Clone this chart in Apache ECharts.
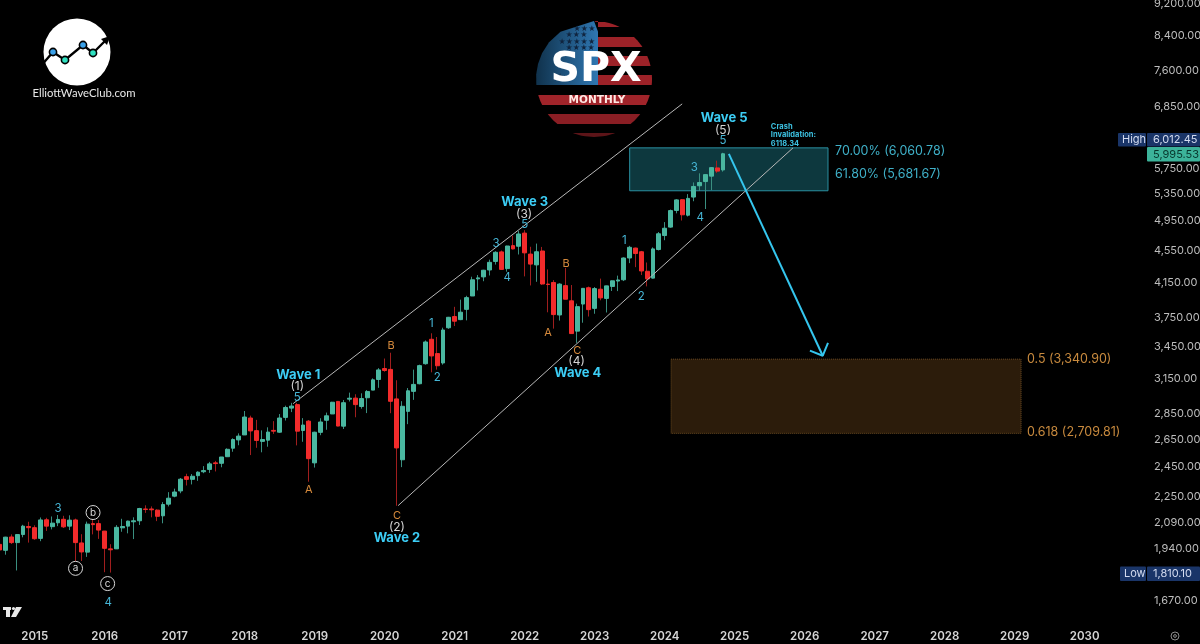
<!DOCTYPE html>
<html>
<head>
<meta charset="utf-8">
<style>
  html, body { margin: 0; padding: 0; background: #000; }
  #chart { width: 1200px; height: 644px; }
</style>
<script src="https://cdn.jsdelivr.net/npm/echarts@6/dist/echarts.min.js"></script>
</head>
<body>
<div id="chart"></div>
<script>
// monthly candles, July 2014 to November 2024
const opens = [1962,1929,2004,1972,2018,2065,2058,1996,2105,2064,2087,2108,2067,2104,1970,1919,2082,2082,2038,1937,1937,2057,2067,2093,2099,2171,2171,2164,2129,2201,
  2252,2286,2381,2363,2388,2415,2431,2477,2474,2521,2583,2645,2683,2816,2716,2634,2643,2718,2704,2821,2897,2926,2717,2791,2477,2703,2798,2849,2953,2751,
  2972,2981,2910,2984,3050,3144,3244,3236,2974,2499,2870,3039,3106,3289,3527,3386,3296,3645,3764,3731,3842,3992,4192,4216,4300,4406,4528,4317,4610,4602,
  4778,4500,4363,4540,4130,4149,3781,4112,3937,3610,3901,4087,3853,4070,3964,4102,4166,4181,4450,4578,4530,4284,4201,4559,4745,4861,5098,5257,5029,5297,
  5471,5537,5623,5757,5724];
const highs = [1985,2005,2019,2018,2075,2093,2072,2119,2117,2125,2134,2129,2132,2112,2020,2094,2116,2104,2038,1963,2073,2111,2100,2120,2178,2194,2187,2169,2214,2278,
  2301,2372,2401,2399,2418,2454,2484,2491,2519,2582,2657,2695,2873,2835,2801,2718,2742,2791,2848,2917,2941,2940,2815,2800,2708,2814,2860,2949,2954,2965,
  3028,3014,3022,3050,3154,3248,3338,3394,3137,2955,3068,3234,3280,3515,3588,3550,3646,3760,3870,3950,3994,4218,4238,4302,4429,4537,4546,4608,4743,4808,
  4818,4595,4637,4593,4307,4177,4140,4325,4119,3905,4080,4101,4095,4195,4110,4170,4231,4458,4607,4584,4541,4393,4587,4793,4931,5111,5264,5263,5342,5523,
  5669,5651,5767,5878,6012];
const lows = [1930,1905,1964,1821,2002,1972,1988,1980,2039,2048,2067,2056,2044,1867,1871,1893,2019,1993,1812,1810,1937,2034,2025,1992,2074,2147,2120,2097,2084,2187,
  2245,2271,2322,2329,2353,2405,2407,2417,2446,2520,2557,2605,2683,2533,2586,2553,2594,2691,2699,2796,2864,2604,2631,2347,2444,2681,2723,2849,2751,2729,
  2952,2822,2892,2856,3050,3070,3214,2855,2191,2447,2767,2966,3101,3280,3209,3234,3280,3634,3663,3725,3723,3992,4056,4164,4233,4367,4306,4279,4560,4495,
  4222,4114,4157,4121,3810,3636,3721,3955,3585,3491,3698,3764,3794,3943,3808,4049,4048,4166,4385,4335,4238,4103,4197,4547,4682,4853,5056,4953,5011,5234,
  5390,5119,5402,5674,5696];
const closes = [1931,2003,1972,2018,2067,2058,1994,2104,2067,2085,2107,2063,2103,1972,1920,2079,2076,2044,1940,1932,2060,2065,2097,2099,2174,2168,2166,2126,2199,2239,
  2279,2364,2363,2384,2412,2423,2470,2472,2519,2575,2648,2674,2824,2714,2641,2648,2705,2712,2816,2902,2914,2712,2760,2507,2704,2784,2834,2946,2752,2942,
  2980,2926,2977,3038,3141,3231,3226,2954,2585,2912,3044,3100,3271,3500,3363,3270,3622,3756,3714,3811,3973,4181,4204,4297,4395,4523,4307,4605,4567,4766,
  4516,4373,4530,4131,4125,3785,4130,3955,3585,3872,4080,3839,4077,3970,4109,4169,4179,4450,4588,4507,4288,4193,4567,4769,4845,5096,5254,5035,5277,5460,
  5522,5648,5762,5705,5995];

const yTicks = [9200,8400,7600,6850,6250,5750,5350,4950,4550,4150,3750,3450,3150,2850,2650,2450,2250,2090,1940,1670];

// annotations: [months since Jul 2014, price]
const channelUpper = [[50.3,2934],[117,6914]];
const channelLower = [[68.3,2192],[136,6097]];
const arrowShaft = [[125,5993],[141.1,3365]];
const arrowHead = [[138.9,3414],[141.1,3365],[142,3492]];
const tealZone = [[108,6097],[142,5393]];
const brownZone = [[115.1,3332],[175.1,2695]];

const waveNames = [[51.2,3188,"Wave 1"],[68.1,1995,"Wave 2"],[90,5226,"Wave 3"],[99.1,3206,"Wave 4"],[124.2,6642,"Wave 5"]];
const waveMarks = [[51,3080,"(1)"],[68.1,2058,"(2)"],[89.9,5035,"(3)"],[98.9,3308,"(4)"],[124,6418,"(5)"]];
const minorNums = [[10,2174,"3"],[18.6,1662,"4"],[51,2985,"5"],[74,3688,"1"],[75,3160,"2"],[85.1,4634,"3"],[87,4205,"4"],
  [90,4893,"5"],[107.1,4675,"1"],[110,3983,"2"],[120.1,4992,"4"],[119.1,5758,"3"],[124,6220,"5"]];
const abcLetters = [[53,2295,"A"],[68.1,2130,"C"],[67.1,3463,"B"],[94,3594,"A"],[97.1,4377,"B"],[99,3414,"C"]];
const circled = [[13,1832,"a"],[16,2149,"b"],[18.5,1754,"c"]];
const tealLevels = [[143.2,6045,"70.00% (6,060.78)"],[143.2,5661,"61.80% (5,681.67)"]];
const brownLevels = [[176.1,3327,"0.5 (3,340.90)"],[176.1,2700,"0.618 (2,709.81)"]];
const crashNote = [[132.2,6328,"Crash\nInvalidation:\n6118.34"]];

const FONT = "Inter, 'Liberation Sans', sans-serif";
const UP = "#4ab7a0", DOWN = "#f22b2b";

// month axis runs to the end of 2030
const months = [];
for (let i = 0; i < 197; i++) {
  const y = 2014 + Math.floor((6 + i) / 12);
  const m = (6 + i) % 12 + 1;
  months.push(y + "-" + String(m).padStart(2, "0"));
}

const wicks = opens.map((o, i) => [o, closes[i], lows[i], highs[i]]);
const bodies = opens.map((o, i) => [o, closes[i], Math.min(o, closes[i]), Math.max(o, closes[i])]);

function overlayLine(points, color, width) {
  return {
    type: "line", xAxisIndex: 1, yAxisIndex: 0, data: points, symbol: "none", z: 3, silent: true,
    lineStyle: { color: color, width: width },
  };
}

function textSeries(points, color, size, weight) {
  return {
    type: "scatter", xAxisIndex: 1, yAxisIndex: 0, data: points, symbolSize: 0, z: 5, silent: true,
    encode: { x: 0, y: 1 },
    itemStyle: { opacity: 1 },
    label: {
      show: true, position: "inside", color: color, fontSize: size, fontWeight: weight, fontFamily: FONT,
      formatter: (p) => p.value[2],
    },
  };
}

function sideText(points, color, size, weight, lineHeight) {
  const s = textSeries(points, color, size, weight);
  s.label.position = "right";
  s.label.distance = 0;
  s.label.align = "left";
  if (lineHeight) s.label.lineHeight = lineHeight;
  return s;
}

function zoneSeries(zone, fill, border, borderType) {
  return {
    type: "line", xAxisIndex: 1, yAxisIndex: 0, data: [], z: 1, silent: true,
    markArea: {
      silent: true,
      itemStyle: { color: fill, borderColor: border, borderWidth: 1, borderType: borderType, opacity: 1 },
      data: [[{ coord: zone[0] }, { coord: zone[1] }]],
    },
  };
}

// polygon for the part of the badge circle between two heights
function slice(y0, y1, xFrom, xTo) {
  const cx = 594, cy = 79, r = 58, left = [], right = [];
  for (let k = 0; k <= 6; k++) {
    const y = y0 + (y1 - y0) * k / 6;
    const half = Math.sqrt(Math.max(0, r * r - (y - cy) * (y - cy)));
    left.push([Math.max(xFrom, cx - half), y]);
    right.unshift([Math.min(xTo, cx + half), y]);
  }
  return left.concat(right);
}

const badge = [];
badge.push({
  type: "polygon", shape: { points: slice(21, 85, 0, 598) },
  style: { fill: new echarts.graphic.LinearGradient(0, 0, 1, 0, [{ offset: 0, color: "#10324c" }, { offset: 1, color: "#2f77b2" }]) },
});
[[21,27],[37,47],[56,66],[75,85]].forEach((b) => {
  badge.push({ type: "polygon", shape: { points: slice(b[0], b[1], 598, 700) }, style: { fill: "#9c2228" } });
});
[[95,105,"#a0242a"],[114,124,"#8a1e24"],[133,137,"#5c1418"]].forEach((b) => {
  badge.push({ type: "polygon", shape: { points: slice(b[0], b[1], 0, 700) }, style: { fill: b[2] } });
});
[[29,577,3],[35,569,3],[42,562,5],[48,569,4],[54,562,2],[77,560,1]].forEach((row) => {
  for (let k = 0; k < row[2]; k++) {
    badge.push({ type: "text", style: { text: "★", x: row[1] + k * 7.4, y: row[0], fill: "#10243e", font: "8px 'DejaVu Sans'", align: "center", verticalAlign: "middle" } });
  }
});
badge.push({ type: "text", style: { text: "SPX", x: 596, y: 70, fill: "#fff", font: "bold 41px 'DejaVu Sans'", align: "center", verticalAlign: "middle", shadowBlur: 10, shadowColor: "#46a8ff" } });
badge.push({ type: "text", style: { text: "MONTHLY", x: 597, y: 100, fill: "#ffe9e4", font: "bold 10.5px 'DejaVu Sans'", align: "center", verticalAlign: "middle", shadowBlur: 4, shadowColor: "#ff8080" } });

const logo = [
  { type: "circle", shape: { cx: 77, cy: 52, r: 33.5 }, style: { fill: "#fff" } },
  { type: "polyline", shape: { points: [[40,67],[53,52],[65,60],[83,45],[93,53],[107,39]] }, style: { stroke: "#000", fill: null, lineWidth: 2.4 } },
  { type: "polygon", shape: { points: [[110,36],[101,39],[107,45]] }, style: { fill: "#000" } },
  { type: "circle", shape: { cx: 53, cy: 52, r: 3.6 }, style: { fill: "#3aa0e8", stroke: "#000", lineWidth: 1.6 } },
  { type: "circle", shape: { cx: 65, cy: 60, r: 3.6 }, style: { fill: "#2fe0c0", stroke: "#000", lineWidth: 1.6 } },
  { type: "circle", shape: { cx: 83, cy: 45, r: 3.6 }, style: { fill: "#3aa0e8", stroke: "#000", lineWidth: 1.6 } },
  { type: "circle", shape: { cx: 93, cy: 53, r: 3.6 }, style: { fill: "#2fe0c0", stroke: "#000", lineWidth: 1.6 } },
  { type: "text", style: { text: "ElliottWaveClub.com", x: 84, y: 93, fill: "#e8e8e8", font: "11.3px Lato, sans-serif", align: "center", verticalAlign: "middle" } },
];

function tag(x, y, w, h, fill, text, color, tx) {
  return [
    { type: "rect", z: 100, shape: { x: x, y: y, width: w, height: h, r: 1 }, style: { fill: fill } },
    { type: "text", z: 101, style: { text: text, x: tx, y: y + h / 2, fill: color, font: "11px " + FONT, verticalAlign: "middle" } },
  ];
}

const tags = [].concat(
  tag(1118, 133, 28, 13.5, "#1a3568", "High", "#d4dcf0", 1122),
  tag(1147, 133, 53, 13.5, "#1a3568", "6,012.45", "#d4dcf0", 1153),
  tag(1147, 147, 53, 14.5, "#3cb39a", "5,995.53", "#07362c", 1153),
  tag(1120, 566.5, 26, 14.5, "#1a3568", "Low", "#d4dcf0", 1124),
  tag(1147, 566.5, 53, 14.5, "#1a3568", "1,810.10", "#d4dcf0", 1153)
);

const marks = [
  { type: "rect", shape: { x: 3, y: 607, width: 8, height: 3 }, style: { fill: "#e8e8e8" } },
  { type: "rect", shape: { x: 6, y: 607, width: 4, height: 10 }, style: { fill: "#e8e8e8" } },
  { type: "circle", shape: { cx: 13.5, cy: 608.5, r: 1.6 }, style: { fill: "#e8e8e8" } },
  { type: "polygon", shape: { points: [[16,607],[22,607],[16,617],[11,617]] }, style: { fill: "#e8e8e8" } },
  { type: "circle", shape: { cx: 1175, cy: 636, r: 4 }, style: { fill: null, stroke: "#8a8a8a", lineWidth: 1 } },
  { type: "circle", shape: { cx: 1175, cy: 636, r: 1.4 }, style: { fill: null, stroke: "#8a8a8a", lineWidth: 1 } },
];

const chart = echarts.init(document.getElementById("chart"));
chart.setOption({
  animation: false,
  backgroundColor: "#000",
  grid: { left: -3.2, top: 1, width: 1149.1, height: 622, outerBoundsMode: "none" },
  xAxis: [
    {
      type: "category", data: months, boundaryGap: true,
      axisLine: { show: false }, axisTick: { show: false }, splitLine: { show: false },
      axisLabel: {
        color: "#d6d6d6", fontSize: 11.5, fontWeight: 600, fontFamily: FONT, margin: 8,
        interval: (i, v) => v.endsWith("-01") && +v.slice(0, 4) >= 2015,
        formatter: (v) => v.slice(0, 4),
      },
    },
    { type: "value", min: -0.5, max: 196.5, show: false },
  ],
  yAxis: {
    type: "log", position: "right", min: 1567, max: 9279,
    axisLine: { show: false }, axisTick: { show: false }, splitLine: { show: false },
    axisLabel: {
      customValues: yTicks, color: "#bdbdbd", fontSize: 11, fontFamily: FONT, margin: 8, align: "left",
      formatter: (v) => Number(v).toLocaleString("en-US", { minimumFractionDigits: 2 }),
    },
  },
  series: [
    zoneSeries(tealZone, "#0d383e", "#2a8fa0", "solid"),
    zoneSeries(brownZone, "#2c1c0b", "#6f4c22", "dotted"),
    {
      type: "candlestick", data: wicks, barWidth: 1, z: 2, silent: true,
      itemStyle: { color: "#3a8f80", color0: "#a01e1e", borderColor: "#3a8f80", borderColor0: "#a01e1e", borderWidth: 1 },
    },
    {
      type: "candlestick", data: bodies, barWidth: 4.4, z: 2, silent: true,
      itemStyle: { color: UP, color0: DOWN, borderColor: UP, borderColor0: DOWN, borderWidth: 1 },
    },
    overlayLine(channelUpper, "#b8b8b8", 1),
    overlayLine(channelLower, "#b8b8b8", 1),
    overlayLine(arrowShaft, "#35c6ee", 2),
    overlayLine(arrowHead, "#35c6ee", 2),
    textSeries(waveNames, "#3ccdf5", 13, 700),
    textSeries(waveMarks, "#d4d4d4", 12, 400),
    textSeries(minorNums, "#46b6d6", 11.5, 400),
    textSeries(abcLetters, "#d68a3c", 11, 400),
    {
      type: "scatter", xAxisIndex: 1, yAxisIndex: 0, data: circled, symbolSize: 14, z: 5, silent: true,
      encode: { x: 0, y: 1 },
      itemStyle: { color: "#000", borderColor: "#d8d8d8", borderWidth: 1, opacity: 1 },
      label: { show: true, position: "inside", color: "#d8d8d8", fontSize: 10, fontFamily: FONT, formatter: (p) => p.value[2] },
    },
    sideText(tealLevels, "#3fb0c8", 12.5, 400),
    sideText(brownLevels, "#c88a3e", 12.5, 400),
    sideText(crashNote, "#3cc0e0", 7.5, 700, 8.5),
  ],
  graphic: { elements: badge.concat(logo, tags, marks) },
});
</script>
</body>
</html>
